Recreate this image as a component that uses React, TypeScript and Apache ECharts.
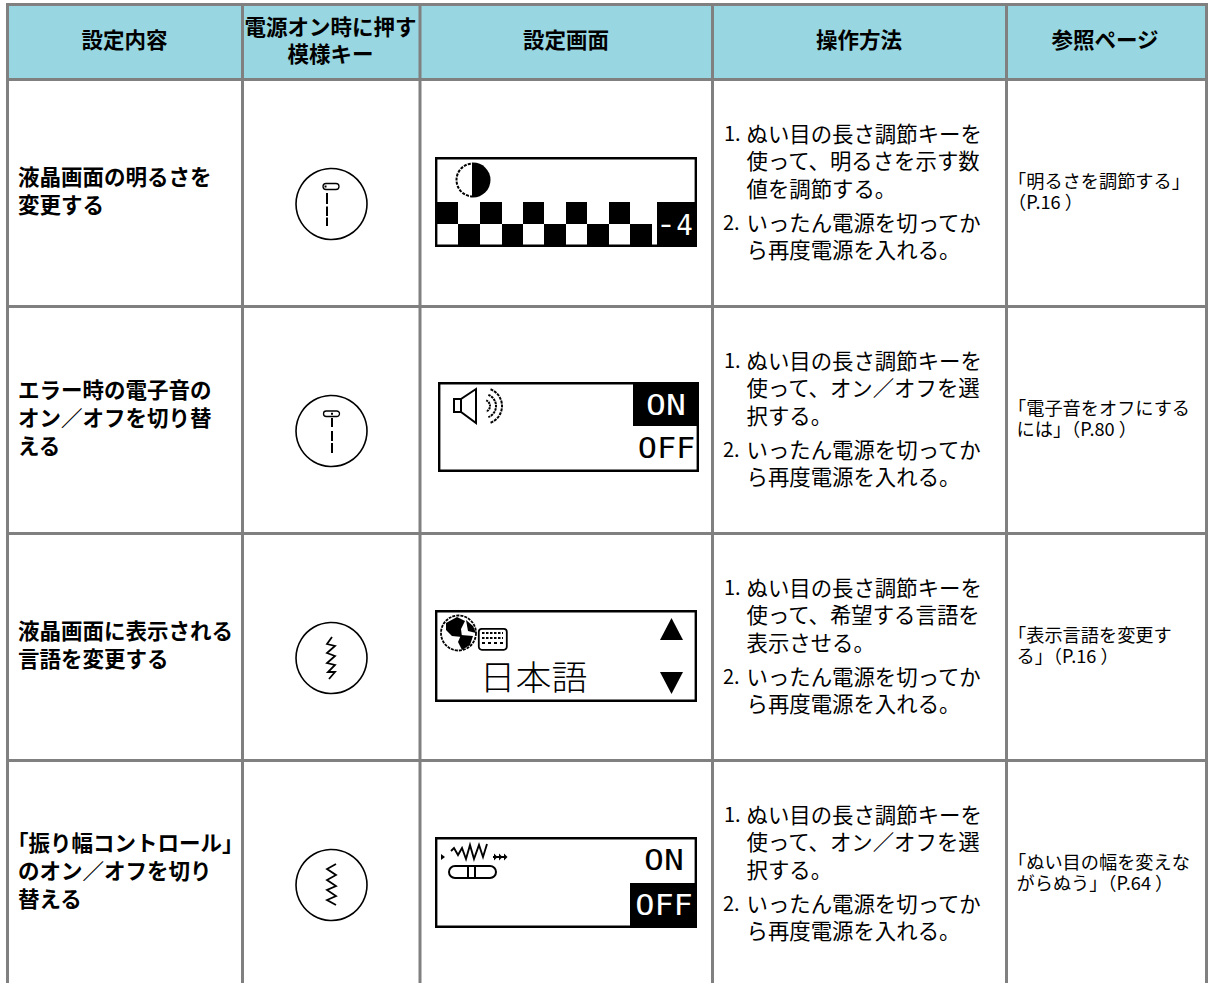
import React, { useEffect, useRef } from "react";
import * as echarts from "echarts";

const headers = ["設定内容", "模様キー", "設定画面", "操作方法", "参照ページ"];
const headerTop = "電源オン時に押す";
const settingLines = [
  ["液晶画面の明るさを", "変更する"],
  ["エラー時の電子音の", "オン／オフを切り替", "える"],
  ["液晶画面に表示される", "言語を変更する"],
  ["「振り幅コントロール」", "のオン／オフを切り", "替える"],
];
const stepOneLines = [
  ["ぬい目の長さ調節キーを", "使って、明るさを示す数", "値を調節する。"],
  ["ぬい目の長さ調節キーを", "使って、オン／オフを選", "択する。"],
  ["ぬい目の長さ調節キーを", "使って、希望する言語を", "表示させる。"],
  ["ぬい目の長さ調節キーを", "使って、オン／オフを選", "択する。"],
];
const stepTwoLines = ["いったん電源を切ってか", "ら再度電源を入れる。"];
const refLines = [
  ["「明るさを調節する」", "（P.16 ）"],
  ["「電子音をオフにする", "には」（P.80 ）"],
  ["「表示言語を変更す", "る」（P.16 ）"],
  ["「ぬい目の幅を変えな", "がらぬう」（P.64 ）"],
];

const GRID = "#808080";
const HEAD = "#98d7e1";
const JP = '"Noto Sans CJK JP", sans-serif';
const MONO = '"DejaVu Sans Mono", monospace';
const colX = [7.5, 242.5, 420, 712.5, 1006.5, 1206.5];
const rowY = [4.5, 79.5, 306.5, 533.5, 760.5];
const PITCH = 227;

const txt = (text: string, x: number, y: number, size: number, o: any = {}) => ({
  type: "text",
  x,
  y,
  scaleX: o.scaleX ?? 1,
  silent: true,
  style: {
    text,
    fontSize: size,
    fontFamily: o.family ?? JP,
    fontWeight: o.weight ?? "normal",
    fill: o.fill ?? "#000",
    textAlign: o.align ?? "left",
    textVerticalAlign: "middle",
  },
});
const rect = (x: number, y: number, w: number, h: number, fill: string, stroke?: string, lw = 0, r = 0) => ({
  type: "rect",
  silent: true,
  shape: { x, y, width: w, height: h, r },
  style: { fill, stroke: stroke ?? "none", lineWidth: lw },
});
const seg = (x1: number, y1: number, x2: number, y2: number, stroke = "#000", lw = 2) => ({
  type: "line",
  silent: true,
  shape: { x1, y1, x2, y2 },
  style: { stroke, lineWidth: lw },
});
const poly = (points: number[][], fill: string) => ({
  type: "polygon",
  silent: true,
  shape: { points },
  style: { fill, stroke: "none" },
});
const pline = (points: number[][], lw = 2, dash?: number[]) => ({
  type: "polyline",
  silent: true,
  shape: { points },
  style: { stroke: "#000", lineWidth: lw, fill: "none", lineDash: dash },
});
const arc = (cx: number, cy: number, r: number, a0: number, a1: number, lw: number, dash?: number[]) => ({
  type: "arc",
  silent: true,
  shape: { cx, cy, r, startAngle: a0, endAngle: a1, clockwise: true },
  style: { stroke: "#000", lineWidth: lw, fill: "none", lineDash: dash },
});
const ring = (cy: number) => ({
  type: "circle",
  silent: true,
  shape: { cx: 331.5, cy, r: 35.5 },
  style: { fill: "#fff", stroke: "#000", lineWidth: 1.6 },
});
const lcdFrame = (x: number, y: number, w: number, h: number) => rect(x + 1.2, y + 1.2, w - 2.4, h - 2.4, "#fff", "#000", 2.4);

function tableItems() {
  const out: any[] = [];
  out.push(rect(colX[0], rowY[0], colX[5] - colX[0], rowY[1] - rowY[0], HEAD));
  const centers = [124.5, 330.5, 566, 859, 1105];
  const H = { align: "center", weight: "bold" };
  out.push(txt(headers[0], centers[0], 38, 21.5, H));
  out.push(txt(headerTop, centers[1], 25.5, 21.5, H));
  out.push(txt(headers[1], centers[1], 52.5, 21.5, H));
  [2, 3, 4].forEach((i) => out.push(txt(headers[i], centers[i], 38, 21.5, H)));

  settingLines.forEach((lines, r) => {
    const startY = [175.5, 388.5, 629.5, 841.5][r];
    lines.forEach((l, i) => out.push(txt(l, l.startsWith("「") ? 7 : 18, startY + i * 28, 21.5, { weight: "bold" })));
  });
  stepOneLines.forEach((lines, r) => {
    const off = r * PITCH;
    out.push(txt("1.", 724, 132 + off, 20));
    lines.forEach((l, i) => out.push(txt(l, 746.5, 132 + off + i * 27.8, 21.4)));
    out.push(txt("2.", 723, 221 + off, 20));
    stepTwoLines.forEach((l, i) => out.push(txt(l, 746.5, 221 + off + i * 27.8, 21.4)));
  });
  refLines.forEach((lines, r) => {
    lines.forEach((l, i) => {
      const hanging = l.startsWith("「") || l.startsWith("（");
      out.push(txt(l, hanging ? 1008 : 1016.5, 179.5 + r * PITCH + i * 21, 18.2));
    });
  });

  colX.forEach((x) => out.push(seg(x, rowY[0] - 1.5, x, 983, GRID, 3)));
  rowY.forEach((y) => out.push(seg(colX[0] - 1.5, y, colX[5] + 1.5, y, GRID, 3)));
  return out;
}

function keyIcons() {
  const out: any[] = [];
  out.push(ring(204));
  out.push(rect(323, 183.5, 16, 6, "#fff", "#000", 1.3, 3), rect(324.5, 185.5, 2, 2, "#000"));
  out.push(seg(327, 193, 327, 204), seg(327, 206.5, 327, 216), seg(327, 217.5, 327, 226));
  out.push(ring(431));
  out.push(rect(323.5, 411, 16, 5.5, "#fff", "#000", 1.3, 3), rect(331, 412.8, 2, 2, "#000"));
  out.push(seg(332, 418, 332, 427), seg(332, 431, 332, 441), seg(332, 443, 332, 453));
  out.push(ring(658));
  const lightning = [[332, 637], [327, 644], [335, 646], [327, 653], [335, 656], [327, 663], [335, 665], [328, 672], [335, 672], [329, 679]];
  out.push(pline(lightning, 1.8));
  out.push(ring(885));
  const zig = [[336, 864], [327, 869], [336, 875], [327, 880], [336, 886], [327, 890], [336, 896], [327, 900], [336, 905]];
  out.push(pline(zig, 1.8));
  return out;
}

function lcdBrightness() {
  const out: any[] = [lcdFrame(435, 157, 262, 90)];
  const topBlack = [[435, 458], [480, 502], [523, 544], [566, 587], [609, 630]];
  const botBlack = [[458, 480], [502, 523], [544, 566], [587, 609], [630, 652]];
  topBlack.forEach(([a, b]) => out.push(rect(a, 202, b - a, 22, "#000")));
  botBlack.forEach(([a, b]) => out.push(rect(a, 224, b - a, 23, "#000")));
  out.push(rect(657, 202, 40, 45, "#000"));
  out.push(txt("-", 666, 224.5, 29, { family: MONO, fill: "#fff", align: "center", scaleX: 1.2 }));
  out.push(txt("4", 684.5, 225, 29, { family: MONO, fill: "#fff", align: "center", scaleX: 0.95 }));
  out.push({
    type: "sector",
    silent: true,
    shape: { cx: 473, cy: 180, r: 17.5, r0: 0, startAngle: -Math.PI / 2, endAngle: Math.PI / 2, clockwise: true },
    style: { fill: "#000" },
  });
  out.push(arc(473, 180, 16.5, Math.PI / 2, (3 * Math.PI) / 2, 2, [3, 1.2]));
  out.push(seg(473, 163, 473, 197, "#000", 2));
  return out;
}

function lcdSound() {
  const out: any[] = [lcdFrame(438, 382, 261, 90)];
  out.push(rect(633, 382, 66, 44, "#000"));
  out.push(txt("ON", 666, 405, 28, { family: MONO, fill: "#fff", align: "center", scaleX: 1.18 }));
  out.push(txt("OFF", 666.5, 448, 28, { family: MONO, align: "center", scaleX: 1.14 }));
  out.push(pline([[461, 399], [454, 399], [454, 412], [461, 412], [476, 423], [476, 389], [461, 399], [461, 412]], 2));
  out.push(arc(484, 406, 6, -1.2, 1.2, 2, [2, 0.8]));
  out.push(arc(484, 406, 12, -1.2, 1.2, 2, [2.5, 0.8]));
  out.push(arc(484, 406, 18, -1.2, 1.2, 2, [3, 1]));
  return out;
}

function lcdLanguage() {
  const out: any[] = [lcdFrame(435, 610, 262, 92)];
  out.push({ type: "circle", silent: true, shape: { cx: 458.5, cy: 633, r: 17.5 }, style: { fill: "#fff", stroke: "#000", lineWidth: 1.8, lineDash: [3, 1] } });
  out.push(poly([[446, 623], [457, 617], [465, 621], [461, 629], [462, 637], [452, 636], [446, 630]], "#000"));
  out.push(poly([[461, 635], [473, 636], [470, 645], [462, 650], [458, 642]], "#000"));
  out.push(poly([[466, 620], [473, 626], [476, 633], [468, 631]], "#000"));
  out.push(rect(478.8, 628.8, 28, 21, "#fff", "#000", 1.8, 3));
  [633, 638, 643].forEach((y, i) => {
    out.push({ type: "line", silent: true, shape: { x1: 482, y1: y, x2: 503, y2: y }, style: { stroke: "#000", lineWidth: 1.8, lineDash: i === 2 ? [3, 3] : [2.5, 1.5] } });
  });
  out.push(poly([[671.5, 618], [683, 640], [660, 640]], "#000"));
  out.push(poly([[660, 672], [683, 672], [671.5, 694]], "#000"));
  out.push(txt("日本語", 533.5, 675, 34, { align: "center", scaleX: 1.06, weight: "300" }));
  return out;
}

function lcdWidth() {
  const out: any[] = [lcdFrame(435, 837, 262, 91)];
  out.push(rect(630, 883, 67, 45, "#000"));
  out.push(txt("ON", 664, 860, 28, { family: MONO, align: "center", scaleX: 1.18 }));
  out.push(txt("OFF", 664, 905, 28, { family: MONO, fill: "#fff", align: "center", scaleX: 1.14 }));
  out.push(poly([[441, 854], [445, 857], [441, 860]], "#000"));
  out.push(pline([[451, 851], [454, 848], [458, 855], [462, 848], [466, 859], [470, 845], [474, 859], [479, 845], [483, 857], [487, 844]], 1.9));
  out.push(seg(493, 857, 506, 857, "#000", 2));
  [494, 499, 504].forEach((x) => out.push(poly([[x, 853.5], [x + 3.5, 857], [x, 860.5]], "#000")));
  out.push(rect(449, 866, 47, 12, "#fff", "#000", 2, 6));
  out.push(seg(468, 866, 468, 878, "#000", 2), seg(475, 866, 475, 878, "#000", 2));
  return out;
}

export default function App() {
  const ref = useRef<HTMLDivElement>(null);
  useEffect(() => {
    const chart = echarts.init(ref.current!, undefined, { renderer: "svg" });
    chart.setOption({
      animation: false,
      backgroundColor: "#fff",
      graphic: {
        elements: [...tableItems(), ...keyIcons(), ...lcdBrightness(), ...lcdSound(), ...lcdLanguage(), ...lcdWidth()],
      },
    });
    return () => chart.dispose();
  }, []);
  return <div ref={ref} style={{ position: "absolute", left: 0, top: 0, width: 1210, height: 983 }} />;
}
